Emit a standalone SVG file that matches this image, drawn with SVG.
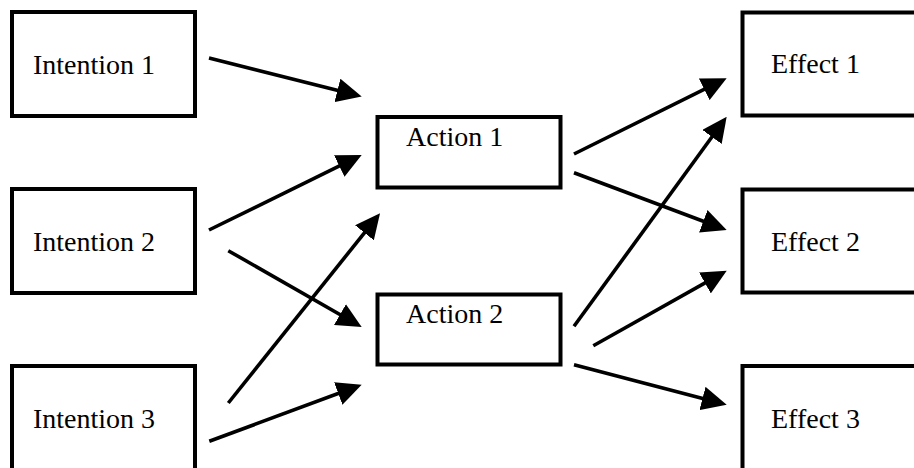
<svg xmlns="http://www.w3.org/2000/svg" width="914" height="468" viewBox="0 0 914 468">
<style>
.box{fill:#fff;stroke:#000;stroke-width:4}
.lbl{font-family:"Liberation Serif","Times New Roman",serif;font-size:28px;fill:#000}
.con{stroke:#000;stroke-width:3.6;fill:none;marker-end:url(#ah)}
</style>
<defs>
<marker id="ah" markerUnits="userSpaceOnUse" markerWidth="25" markerHeight="24" refX="15" refY="12" orient="auto">
<path d="M0,0 L25,12 L0,24 Z" fill="#000"/>
</marker>
</defs>
<rect width="914" height="468" fill="#fff"/>
<g id="intention1"><rect class="box" x="12" y="12" width="183" height="104"/><text class="lbl" x="33" y="74">Intention 1</text></g>
<g id="intention2"><rect class="box" x="12" y="189" width="183" height="104"/><text class="lbl" x="33" y="251">Intention 2</text></g>
<g id="intention3"><rect class="box" x="12" y="366" width="183" height="110"/><text class="lbl" x="33" y="428">Intention 3</text></g>
<g id="action1"><rect class="box" x="377.5" y="117" width="183" height="70.5"/><text class="lbl" x="406" y="146">Action 1</text></g>
<g id="action2"><rect class="box" x="377.5" y="294.5" width="183" height="70"/><text class="lbl" x="406" y="323">Action 2</text></g>
<g id="effect1"><rect class="box" x="742.5" y="12.5" width="200" height="103"/><text class="lbl" x="771" y="73">Effect 1</text></g>
<g id="effect2"><rect class="box" x="742.5" y="189.5" width="200" height="103"/><text class="lbl" x="771" y="251">Effect 2</text></g>
<g id="effect3"><rect class="box" x="742.5" y="366" width="200" height="110"/><text class="lbl" x="771" y="428">Effect 3</text></g>
<g id="connectors">
<line class="con" x1="209" y1="58" x2="352" y2="94"/>
<line class="con" x1="209" y1="230" x2="352.7" y2="159.4"/>
<line class="con" x1="228.3" y1="250.7" x2="353" y2="322"/>
<line class="con" x1="228.3" y1="403" x2="373.8" y2="221.1"/>
<line class="con" x1="209.3" y1="441.3" x2="352.3" y2="388.2"/>
<line class="con" x1="574" y1="154" x2="717.7" y2="82.7"/>
<line class="con" x1="574" y1="172.7" x2="717.3" y2="226.5"/>
<line class="con" x1="574" y1="326.3" x2="720.8" y2="124.8"/>
<line class="con" x1="593.3" y1="345.7" x2="718" y2="275.6"/>
<line class="con" x1="574" y1="364.7" x2="717" y2="402.2"/>
</g>
</svg>
